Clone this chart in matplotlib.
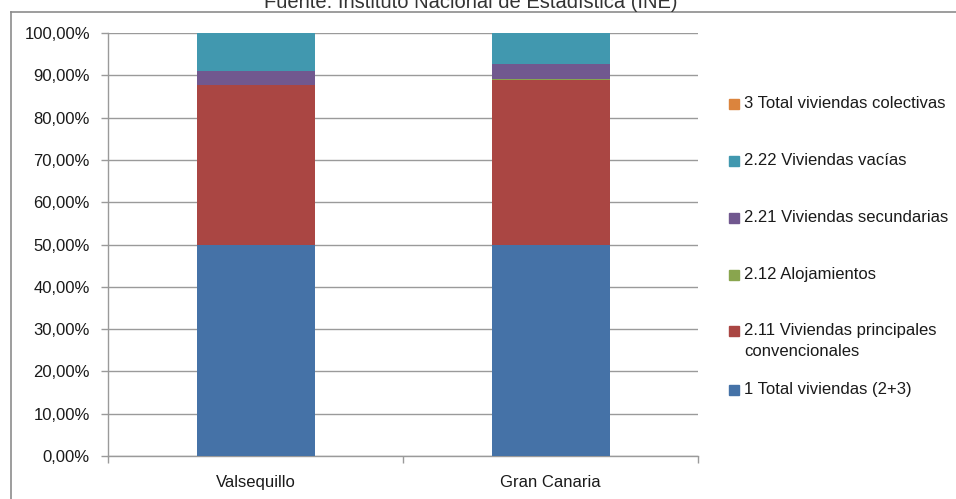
import matplotlib
matplotlib.use("Agg")
import matplotlib.pyplot as plt
from matplotlib.lines import Line2D
from matplotlib.patches import Rectangle
import numpy as np

plt.rcParams['font.family'] = ['Liberation Sans', 'DejaVu Sans']

# data (percent of column)
places = ["Valsequillo", "Gran Canaria"]
series = ["1 Total viviendas (2+3)",
          "2.11 Viviendas principales\nconvencionales",
          "2.12 Alojamientos",
          "2.21 Viviendas secundarias",
          "2.22 Viviendas vacías",
          "3 Total viviendas colectivas"]
total = [50.0, 50.0]
principales = [37.6, 39.0]
alojamientos = [0.0, 0.05]
secundarias = [3.4, 3.65]
vacias = [9.0, 7.2]
colectivas = [0.0, 0.1]
colors = ["#4572A7", "#AA4643", "#89A54E", "#71588F", "#4198AF", "#DB843D"]

values = [total, principales, alojamientos, secundarias, vacias, colectivas]

fig = plt.figure(figsize=(9.56, 4.99), dpi=100)
ax = fig.add_axes([108 / 956, 1 - 456 / 499, 590 / 956, 423 / 499])

x = np.arange(len(places))
bottom = np.zeros(len(places))
for vals, col in zip(values, colors):
    ax.bar(x, vals, 0.4, bottom=bottom, color=col, linewidth=0, zorder=3)
    bottom += np.array(vals)

ax.set_xlim(-0.5, 1.5)
ax.set_ylim(0, 100)
ax.set_yticks(np.arange(0, 101, 10))
ax.set_yticklabels(["%d,00%%" % v for v in range(0, 101, 10)], fontsize=12, color="#1a1a1a")
ax.yaxis.grid(True, color="#9a9a9a", linewidth=1, zorder=0)
ax.set_axisbelow(True)

ax.set_xticks(x)
ax.set_xticklabels(places, fontsize=12, color="#1a1a1a")
ax.tick_params(axis="x", length=0, pad=14)
ax.set_xticks([-0.5, 0.5, 1.5], minor=True)
ax.tick_params(axis="x", which="minor", length=5, color="#9a9a9a", width=1)
ax.tick_params(axis="y", length=5, color="#9a9a9a", width=1, pad=8)

for s in ["top", "right"]:
    ax.spines[s].set_visible(False)
for s in ["left", "bottom"]:
    ax.spines[s].set_color("#9a9a9a")
    ax.spines[s].set_linewidth(1)

# legend drawn by hand (reverse order, Excel style)
leg_tops = [96, 153, 210, 267, 323, 382]
for i, (lab, col) in enumerate(zip(series[::-1], colors[::-1])):
    ytop = 1 - leg_tops[i] / 499
    fig.text(744 / 956, ytop, lab, fontsize=12, va="top", ha="left",
             color="#1a1a1a", linespacing=1.5)
    fig.add_artist(Rectangle((729 / 956, ytop - 13 / 499), 10 / 956, 10 / 499,
                             transform=fig.transFigure, color=col))

# cropped title and chart frame
fig.text(471 / 956, 1 - 8 / 499, "Fuente: Instituto Nacional de Estadística (INE)",
         fontsize=14.5, ha="center", va="baseline", color="#333333")
fig.add_artist(Line2D([11 / 956, 1], [1 - 12 / 499, 1 - 12 / 499],
                      transform=fig.transFigure, color="#8c8c8c", lw=1.2))
fig.add_artist(Line2D([11 / 956, 11 / 956], [0, 1 - 12 / 499],
                      transform=fig.transFigure, color="#8c8c8c", lw=1.2))

fig.savefig("out.png", dpi=100)
